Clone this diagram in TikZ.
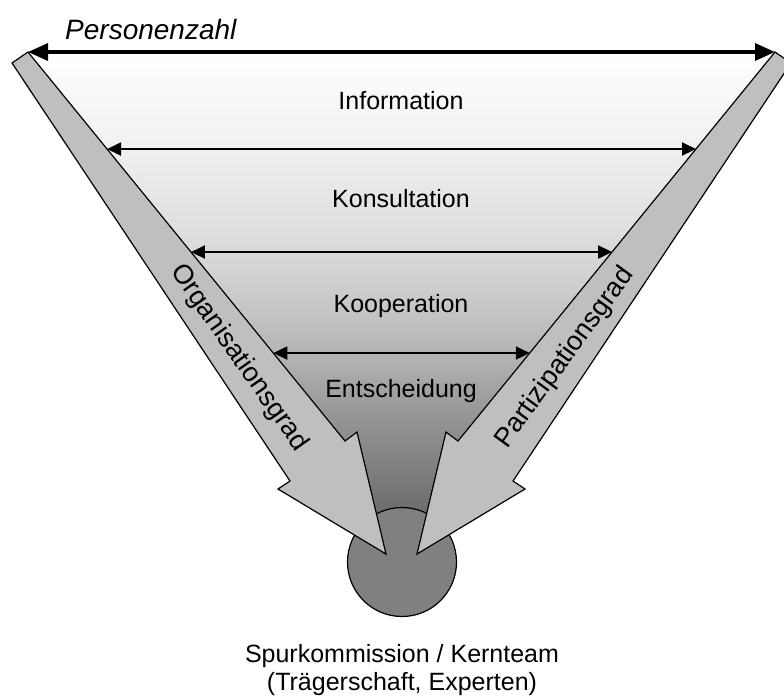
\documentclass[tikz,border=0pt]{standalone}
\usepackage{fontspec}
\setmainfont{Liberation Sans}
\usepackage{tikz}
\usetikzlibrary{arrows.meta}
\definecolor{shaftgray}{gray}{0.75}
\definecolor{coregray}{gray}{0.5}
\pgfdeclareverticalshading{funnel}{100bp}{color(0bp)=(black!61); color(25bp)=(black!61); color(30bp)=(black!56); color(39bp)=(black!41); color(44bp)=(black!31); color(51bp)=(black!20); color(56bp)=(black!14); color(65bp)=(black!6); color(75bp)=(white); color(100bp)=(white)}

\begin{document}
\begin{tikzpicture}[x=1pt,y=-1pt]
\tikzstyle{every node}+=[inner sep=0pt]
\tikzstyle{lbl}=[font=\fontsize{25}{29}\selectfont]
\tikzstyle{side}=[font=\fontsize{27}{30}\selectfont]
\tikzstyle{shaft}=[draw=black,line width=1.2pt,fill=shaftgray,line join=miter]
\tikzstyle{level}=[line width=2pt,{Triangle[length=14pt,width=13pt]}-{Triangle[length=14pt,width=13pt]}]
\useasboundingbox (0,0) rectangle (784,697);
\coordinate (ot) at (28,52);
\coordinate (on) at (345,441);
\coordinate (pt) at (775,52);
\coordinate (pn) at (458,441);
\shade [shading=funnel] (ot) -- (pt) -- (417,554) -- (386,554) -- cycle;
\node [circle,draw=black,line width=1.2pt,fill=coregray,minimum size=109pt] (core) at (402,562) {};
\draw [shaft] (12,63) -- (ot) -- (on) -- (357,432) -- (386,554) -- (278,489) -- (290,481) -- cycle;
\draw [shaft] (791,63) -- (pt) -- (pn) -- (446,432) -- (417,554) -- (525,489) -- (513,481) -- cycle;
\coordinate (a1) at (intersection of ot--on and 0,149--784,149);
\coordinate (b1) at (intersection of pt--pn and 0,149--784,149);
\coordinate (a2) at (intersection of ot--on and 0,252--784,252);
\coordinate (b2) at (intersection of pt--pn and 0,252--784,252);
\coordinate (a3) at (intersection of ot--on and 0,353--784,353);
\coordinate (b3) at (intersection of pt--pn and 0,353--784,353);
\draw [line width=3.5pt,{Triangle[length=20pt,width=17pt]}-{Triangle[length=20pt,width=17pt]}] (ot) -- (pt);
\draw [level] (a1) -- (b1);
\draw [level] (a2) -- (b2);
\draw [level] (a3) -- (b3);
\node [font=\fontsize{28}{30}\selectfont\itshape,anchor=base west] (pers) at (65,39) {Personenzahl};
\node [lbl,anchor=base] (info) at (401,109) {Information};
\node [lbl,anchor=base] (kons) at (401,207) {Konsultation};
\node [lbl,anchor=base] (koop) at (401,312) {Kooperation};
\node [lbl,anchor=base] (ents) at (401,397) {Entscheidung};
\node [side,rotate=-55] (org) at (239,358) {Organisationsgrad};
\node [side,rotate=54] (part) at (565,358) {Partizipationsgrad};
\node [lbl,anchor=base] (kern) at (402,662) {Spurkommission / Kernteam};
\node [lbl,anchor=base] (traeger) at (402,690) {(Trägerschaft, Experten)};
\end{tikzpicture}
\end{document}
